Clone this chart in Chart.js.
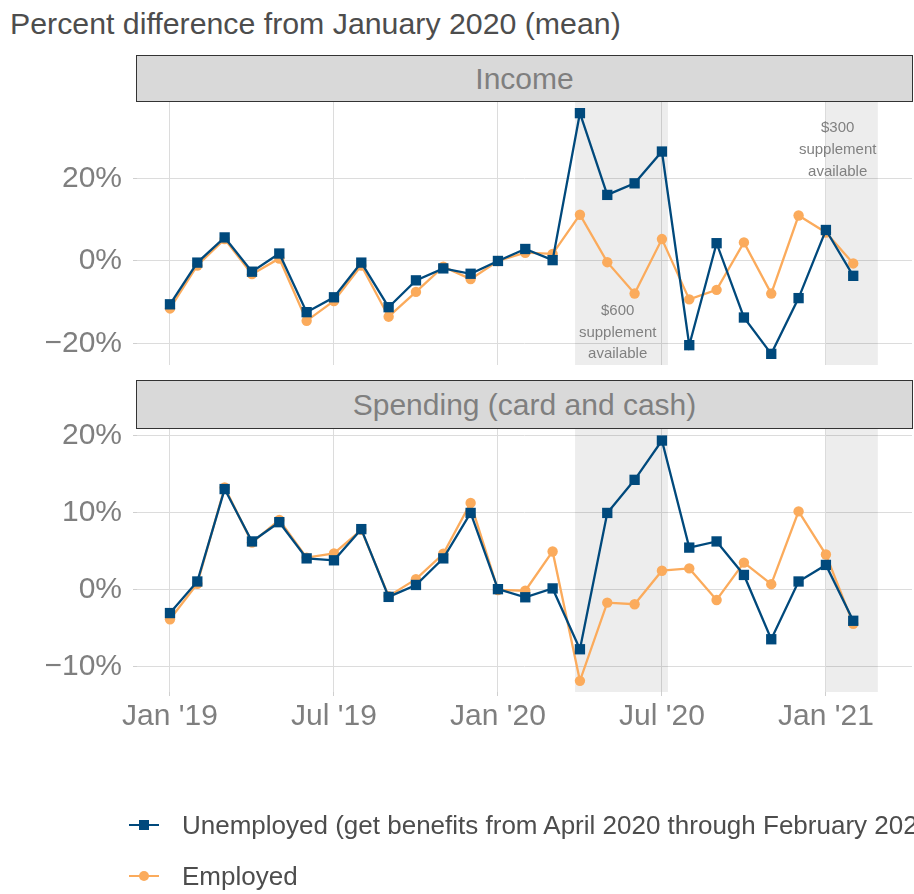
<!DOCTYPE html>
<html><head><meta charset="utf-8">
<script src="https://cdn.jsdelivr.net/npm/chart.js@4.4.0/dist/chart.umd.min.js"></script>
<style>
html,body{margin:0;padding:0;background:#fff;width:914px;height:894px;overflow:hidden;position:relative;font-family:"Liberation Sans",Arial,sans-serif;}
#title{position:absolute;left:10px;top:7px;font-size:30.3px;color:#4d4d4d;white-space:nowrap;}
.strip{position:absolute;left:136px;width:777px;box-sizing:border-box;background:#d9d9d9;border:1.5px solid #333;color:#7f7f7f;font-size:30px;display:flex;align-items:center;justify-content:center;white-space:nowrap;}
canvas{position:absolute;left:0;}
.legrow{position:absolute;left:129px;height:40px;display:flex;align-items:center;white-space:nowrap;font-size:26px;color:#4d4d4d;}
.sym{position:relative;width:30px;height:40px;flex:none;}
.sym .ln{position:absolute;left:0;top:19px;width:30px;height:2.2px;}
.sym .mk{position:absolute;left:10px;top:15px;width:10px;height:10px;}
.legrow .tx{margin-left:23px;}
</style>
</head><body>
<div id="title">Percent difference from January 2020 (mean)</div>
<div class="strip" style="top:55px;height:47px;">Income</div>
<div class="strip" style="top:380px;height:49px;">Spending (card and cash)</div>
<canvas id="c1" width="914" height="370" style="top:0;"></canvas>
<canvas id="c2" width="914" height="524" style="top:370px;"></canvas>
<div id="legend"></div>
<script>
// ---- data ----
const months = ['2019-01','2019-02','2019-03','2019-04','2019-05','2019-06','2019-07','2019-08','2019-09','2019-10','2019-11','2019-12',
                '2020-01','2020-02','2020-03','2020-04','2020-05','2020-06','2020-07','2020-08','2020-09','2020-10','2020-11','2020-12',
                '2021-01','2021-02'];
const seriesNames = ['Unemployed (get benefits from April 2020 through February 2021)','Employed'];
const incomeUnemployed = [-10.5,-0.4,5.7,-2.6,1.8,-12.4,-8.8,-0.4,-11.2,-4.7,-1.8,-3.1,0,2.9,0.2,35.8,16.0,18.8,26.5,-20.4,4.3,-13.7,-22.5,-9.0,7.5,-3.6];
const incomeEmployed   = [-11.5,-1.1,5.3,-3.2,0.6,-14.5,-9.7,-1.1,-13.5,-7.5,-1.4,-4.4,0,2.0,1.7,11.2,-0.3,-7.9,5.3,-9.3,-7.0,4.5,-7.9,11.0,6.9,-0.6];
const spendingUnemployed = [-3.0,1.1,13.1,6.3,8.8,4.1,3.85,7.9,-0.9,0.65,4.1,10.0,0.1,-0.95,0.2,-7.7,10.0,14.3,19.4,5.5,6.3,1.95,-6.4,1.1,3.25,-4.0];
const spendingEmployed   = [-3.8,0.8,13.3,6.15,9.1,4.2,4.75,7.8,-0.8,1.4,4.7,11.3,0,-0.1,5.0,-11.8,-1.65,-1.85,2.5,2.8,-1.3,3.55,0.75,10.2,4.6,-4.4];
const xTickMonths = ['2019-01','2019-07','2020-01','2020-07','2021-01'];
const xTickLabels = ["Jan '19","Jul '19","Jan '20","Jul '20","Jan '21"];
const incomeTicks = [-20,0,20];
const spendingTicks = [-10,0,10,20];
const shadeRanges = [[14.82,18.22],[24.0,25.9]]; // in month index
const annotations = [
  {x:16.38, y:-17.3, lines:['$600','supplement','available']},
  {x:24.43, y:26.9, lines:['$300','supplement','available']}
];

// ---- styling ----
const BLUE = '#00497c', ORANGE = '#fbab5c';
const GRID = '#dcdcdc', TICKC = '#7f7f7f';
const FONT = '"Liberation Sans", Arial, sans-serif';

const xIdx = xTickMonths.map(m => months.indexOf(m));
const toPts = arr => arr.map((v,i) => ({x:i, y:v}));

function fmtPct(v){ return (v<0 ? '\u2212' : '') + Math.abs(v) + '%'; }

const shadePlugin = {
  id:'shade',
  beforeDatasetsDraw(chart, args, opts){
    const {ctx, chartArea:a, scales:{x,y}} = chart;
    ctx.save();
    ctx.fillStyle = 'rgba(0,0,0,0.072)';
    shadeRanges.forEach(([s,e]) => {
      const x0 = x.getPixelForValue(s), x1 = x.getPixelForValue(e);
      ctx.fillRect(x0, a.top, x1-x0, a.bottom-a.top);
    });
    if (opts.annotate) {
      ctx.fillStyle = '#808080';
      ctx.font = '15px ' + FONT;
      ctx.textAlign = 'center';
      ctx.textBaseline = 'middle';
      annotations.forEach(an => {
        const px = x.getPixelForValue(an.x), py = y.getPixelForValue(an.y);
        an.lines.forEach((t,k) => ctx.fillText(t, px, py + (k-1)*21.8));
      });
    }
    ctx.restore();
  }
};

function makeChart(id, uVals, eVals, yMin, yMax, yTicks, opts){
  return new Chart(document.getElementById(id), {
    type:'line',
    data:{datasets:[
      {label:seriesNames[0], data:toPts(uVals), borderColor:BLUE, backgroundColor:BLUE, borderWidth:2.3,
       pointStyle:'rect', pointRadius:7.3, pointBorderWidth:0, tension:0},
      {label:seriesNames[1], data:toPts(eVals), borderColor:ORANGE, backgroundColor:ORANGE, borderWidth:2.3,
       pointStyle:'circle', pointRadius:5.2, pointBorderWidth:0, tension:0}
    ]},
    plugins:[shadePlugin],
    options:{
      responsive:false, animation:false, devicePixelRatio:1,
      layout:{padding:opts.padding, autoPadding:false},
      events:[],
      plugins:{legend:{display:false}, tooltip:{enabled:false}, title:{display:false}, shade:{annotate:opts.annotate}},
      scales:{
        x:{type:'linear', min:-1.207, max:27.15,
           afterBuildTicks: s => { s.ticks = xIdx.map(v => ({value:v})); },
           afterFit: s => { s.height = opts.xHeight; s.paddingLeft = 0; s.paddingRight = 0; },
           grid:{color:GRID, lineWidth:1, drawTicks:opts.xTicks, tickLength:4, tickColor:'#cfcfcf'},
           border:{display:false},
           ticks:{display:opts.xTicks, padding:3, color:TICKC, font:{family:FONT, size:30},
                  maxRotation:0, autoSkip:false, callback:(v,i) => xTickLabels[i]}},
        y:{type:'linear', min:yMin, max:yMax,
           afterBuildTicks: s => { s.ticks = yTicks.map(v => ({value:v})); },
           afterFit: s => { s.width = 137; s.paddingTop = 0; s.paddingBottom = 0; },
           grid:{color:GRID, lineWidth:1, drawTicks:true, tickLength:4, tickColor:'#cfcfcf'},
           border:{display:false},
           ticks:{padding:11, color:TICKC, font:{family:FONT, size:30}, callback:v => fmtPct(v)}}
      }
    }
  });
}

makeChart('c1', incomeUnemployed, incomeEmployed, -25.2, 38.5, incomeTicks,
  {padding:{top:102,bottom:5,left:0,right:2}, xHeight:0, xTicks:false, annotate:true});
makeChart('c2', spendingUnemployed, spendingEmployed, -13.25, 20.9, spendingTicks,
  {padding:{top:59,bottom:142,left:0,right:2}, xHeight:60, xTicks:true, annotate:false});

// ---- HTML legend ----
const leg = document.getElementById('legend');
[[BLUE,'0',805],[ORANGE,'50%',856]].forEach(([c,rad,top],i) => {
  const row = document.createElement('div');
  row.className = 'legrow'; row.style.top = top + 'px';
  row.innerHTML = '<div class="sym"><div class="ln" style="background:'+c+'"></div><div class="mk" style="background:'+c+';border-radius:'+rad+'"></div></div><div class="tx"></div>';
  row.querySelector('.tx').textContent = seriesNames[i];
  leg.appendChild(row);
});
</script>
</body></html>
